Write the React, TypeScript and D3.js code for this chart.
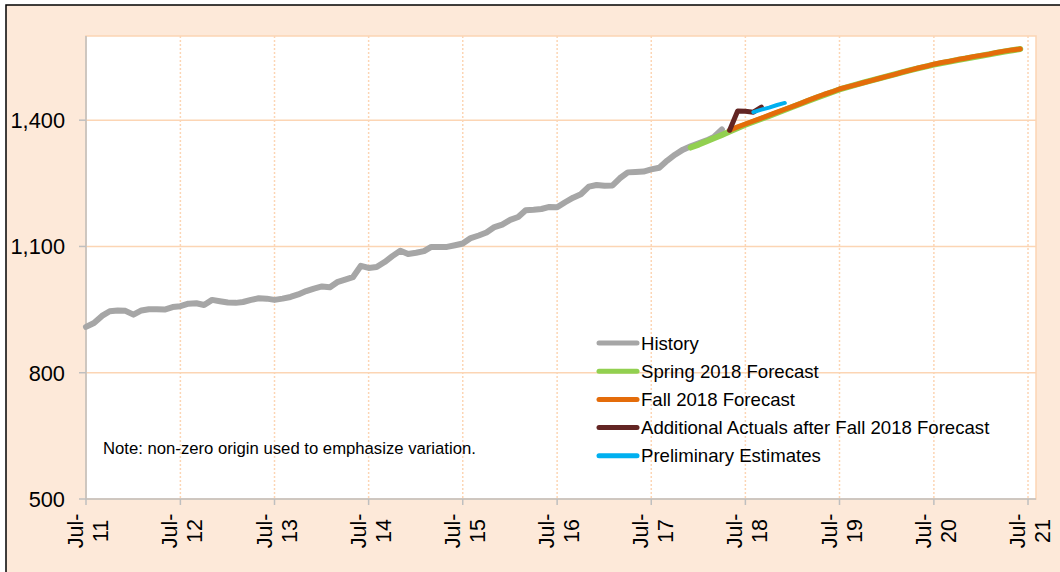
import React from "react";
import * as d3 from "d3";

// ---- Data (monthly, values) ----
const historyStart = [2011, 6]; // Jul-2011
const historyValues = [
  909, 918, 935, 946, 948, 947, 938, 948, 951, 951, 950, 956,
  958, 964, 965, 961, 973, 970, 967, 966, 968, 973, 977, 976,
  973, 976, 980, 986, 994, 1000, 1005, 1003, 1015, 1021, 1027, 1054,
  1049, 1051, 1063, 1077, 1090, 1082, 1085, 1089, 1099, 1099, 1099, 1103,
  1107, 1120, 1126, 1133, 1146, 1152, 1163, 1170, 1186, 1187, 1189, 1194,
  1193, 1205, 1216, 1224, 1242, 1246, 1244, 1245, 1262, 1276, 1277, 1278,
  1283, 1287, 1304, 1318, 1330, 1338, 1345, 1352, 1360, 1378,
];

const springMonths = [77, 78, 79, 80, 81, 82, 84, 87, 90, 93, 96, 99, 102, 105, 108, 111, 114, 117, 119];
const springValues = [1335, 1342, 1350, 1357, 1365, 1373, 1389, 1410, 1432, 1453, 1473, 1489, 1504, 1519, 1532, 1543, 1553, 1563, 1569];

const fallStartMonth = 82;
const fallValues = [
  1376, 1384, 1391, 1398, 1405, 1412, 1419, 1426, 1433, 1440, 1447, 1454,
  1461, 1467, 1474, 1479, 1484, 1489, 1494, 1499, 1504, 1509, 1514, 1519,
  1524, 1528, 1533, 1537, 1540, 1544, 1547, 1551, 1554, 1557, 1561, 1564,
  1567, 1569,
];

const actualsStartMonth = 82;
const actualsValues = [1376, 1422, 1421, 1419, 1431];

const prelimStartMonth = 85;
const prelimValues = [1419, 1425, 1430, 1436, 1441];

const yTicks = [500, 800, 1100, 1400];
const xTickYears = [11, 12, 13, 14, 15, 16, 17, 18, 19, 20, 21];

const legendItems = [
  { label: "History", color: "#A6A6A6" },
  { label: "Spring 2018 Forecast", color: "#92D050" },
  { label: "Fall 2018 Forecast", color: "#E46C0A" },
  { label: "Additional Actuals after Fall 2018 Forecast", color: "#632523" },
  { label: "Preliminary Estimates", color: "#00B0F0" },
];

const noteText = "Note: non-zero origin used to emphasize variation.";

const FONT = "'Liberation Sans', Arial, Helvetica, sans-serif";

function monthDate(m: number) {
  return new Date(historyStart[0], historyStart[1] + m, 1);
}

export default function App() {
  const left = 86, right = 1036, top = 36, bottom = 499;
  const x = d3.scaleTime().domain([monthDate(0), monthDate(121)]).range([left, right]);
  const y = d3.scaleLinear().domain([500, 1600]).range([bottom, top]);

  const line = d3
    .line<{ m: number; v: number }>()
    .x((d) => x(monthDate(d.m)))
    .y((d) => y(d.v));

  const history = historyValues.map((v, i) => ({ m: i, v }));
  const spring = springValues.map((v, i) => ({ m: springMonths[i], v }));
  const fall = fallValues.map((v, i) => ({ m: fallStartMonth + i, v }));
  const actuals = actualsValues.map((v, i) => ({ m: actualsStartMonth + i, v }));
  const prelim = prelimValues.map((v, i) => ({ m: prelimStartMonth + i, v }));

  const series = [
    { d: history, color: legendItems[0].color, w: 6 },
    { d: spring, color: legendItems[1].color, w: 6 },
    { d: fall, color: legendItems[2].color, w: 5 },
    { d: actuals, color: legendItems[3].color, w: 5 },
    { d: prelim, color: legendItems[4].color, w: 4 },
  ];

  return (
    <svg
      width={1060}
      height={572}
      style={{ position: "absolute", left: 0, top: 0 }}
      fontFamily={FONT}
    >
      <rect x={6} y={5} width={1060} height={572} fill="#FDE9D9" stroke="#000" strokeWidth={1.5} />
      <rect x={left} y={top} width={right - left} height={bottom - top} fill="#fff" stroke="#FCD5B4" strokeWidth={1.5} />

      {/* horizontal gridlines */}
      {yTicks.slice(1).map((t) => (
        <line key={t} x1={left} x2={right} y1={y(t)} y2={y(t)} stroke="#FCD5B4" strokeWidth={1.5} />
      ))}
      {/* vertical dotted gridlines */}
      {xTickYears.slice(1).map((yr) => {
        const xx = x(monthDate((yr - 11) * 12));
        return (
          <line key={yr} x1={xx} x2={xx} y1={top} y2={bottom} stroke="#FCD5B4" strokeWidth={1.5} strokeDasharray="2,2" />
        );
      })}

      {/* axes */}
      <line x1={left} x2={left} y1={top} y2={bottom} stroke="#BFBFBF" strokeWidth={1.5} />
      <line x1={left} x2={right} y1={bottom} y2={bottom} stroke="#BFBFBF" strokeWidth={1.5} />
      {yTicks.map((t) => (
        <g key={t}>
          <line x1={left - 7} x2={left} y1={y(t)} y2={y(t)} stroke="#BFBFBF" strokeWidth={1.5} />
          <text x={65} y={y(t)} dy="0.36em" textAnchor="end" fontSize={21.8} fill="#000">
            {d3.format(",")(t)}
          </text>
        </g>
      ))}
      {xTickYears.map((yr) => {
        const xx = x(monthDate((yr - 11) * 12));
        return (
          <g key={yr}>
            <line x1={xx} x2={xx} y1={bottom} y2={bottom + 6} stroke="#BFBFBF" strokeWidth={1.5} />
            <g transform={`translate(${xx - 3},531) rotate(-90)`}>
              <text textAnchor="middle" fontSize={21.5} fill="#000">
                <tspan x={0} y={0}>Jul-</tspan>
                <tspan x={0} y={25}>{yr}</tspan>
              </text>
            </g>
          </g>
        );
      })}

      {/* series */}
      {series.map((s, i) => (
        <path
          key={i}
          d={line(s.d) || ""}
          fill="none"
          stroke={s.color}
          strokeWidth={s.w}
          strokeLinejoin="round"
          strokeLinecap="round"
        />
      ))}

      {/* legend */}
      {legendItems.map((it, i) => {
        const cy = 343 + i * 28.2;
        return (
          <g key={it.label}>
            <line x1={599} x2={637} y1={cy} y2={cy} stroke={it.color} strokeWidth={5} strokeLinecap="round" />
            <text x={641} y={cy} dy="0.36em" fontSize={18.6} fill="#000">
              {it.label}
            </text>
          </g>
        );
      })}

      <text x={103} y={448} dy="0.36em" fontSize={16.7} fill="#000">
        {noteText}
      </text>
    </svg>
  );
}
